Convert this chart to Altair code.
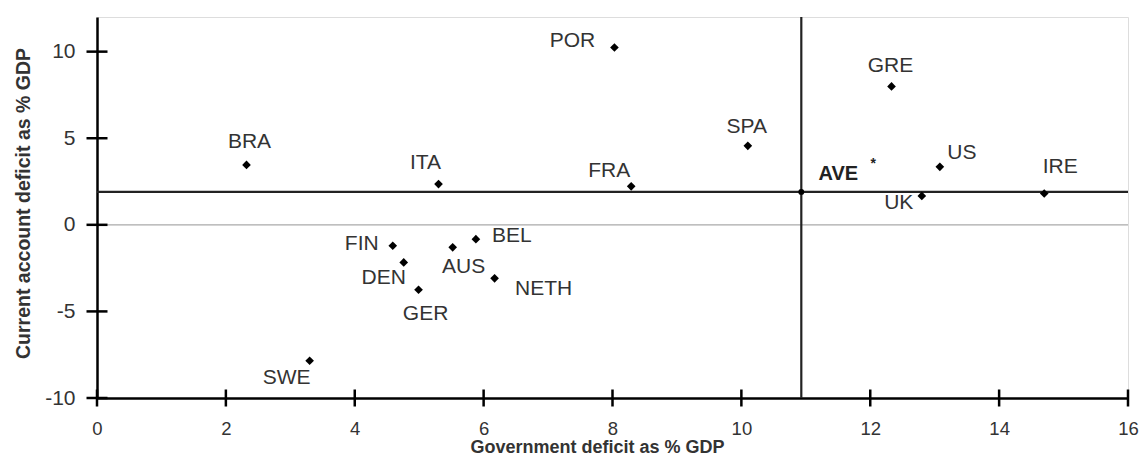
import altair as alt
import pandas as pd

# ---- data ----
countries = ["POR", "GRE", "BRA", "ITA", "FRA", "SPA", "US", "IRE", "UK",
             "FIN", "DEN", "AUS", "BEL", "NETH", "GER", "SWE"]
gov_deficit = [8.03, 12.33, 2.32, 5.30, 8.29, 10.10, 13.08, 14.70, 12.80,
               4.59, 4.76, 5.52, 5.88, 6.17, 4.99, 3.30]
ca_deficit = [10.24, 7.99, 3.46, 2.35, 2.22, 4.56, 3.35, 1.81, 1.67,
              -1.21, -2.17, -1.30, -0.83, -3.09, -3.75, -7.85]
avg_label = ["AVE"]
avg_gov = [10.93]
avg_ca = [1.90]
x_ticks = [0, 2, 4, 6, 8, 10, 12, 14, 16]
y_ticks = [-10, -5, 0, 5, 10]
x_title = "Government deficit as % GDP"
y_title = "Current account deficit as % GDP"

# ---- label placement (style, kept apart from data) ----
label_offsets = {
    "POR": (-42, -6), "GRE": (-1, -20), "BRA": (3, -23), "ITA": (-13, -21),
    "FRA": (-22, -15), "SPA": (-1, -19), "US": (22, -14), "IRE": (16, -26),
    "UK": (-23, 7), "FIN": (-31, -2), "DEN": (-20, 16), "AUS": (11, 20),
    "BEL": (36, -3), "NETH": (49, 11), "GER": (7, 24), "SWE": (-23, 17),
}

df = pd.DataFrame({"country": countries, "gov": gov_deficit, "ca": ca_deficit})
avg = pd.DataFrame({"label": avg_label, "gov": avg_gov, "ca": avg_ca})
xt = pd.DataFrame({"v": x_ticks, "base": [y_ticks[0]] * len(x_ticks)})
yt = pd.DataFrame({"v": y_ticks, "base": [x_ticks[0]] * len(y_ticks)})

FONT = "Liberation Sans"
TXT = "#333333"

xscale = alt.Scale(domain=[0, 16], nice=False, zero=False)
yscale = alt.Scale(domain=[-10, 12], nice=False, zero=False)

xaxis = alt.Axis(values=x_ticks, ticks=False, grid=False, domainColor="black",
                 domainWidth=2.5, labelFont=FONT, labelFontSize=18.5, labelColor=TXT,
                 labelExpr="datum.value + ''", labelFlush=False,
                 labelPadding=21, title=x_title, titleFont=FONT, titleFontSize=18,
                 titleFontWeight="bold", titleColor=TXT, titleX=500, titleY=54,
                 titleBaseline="alphabetic", titleAlign="center")
yaxis = alt.Axis(values=y_ticks, ticks=False, grid=False, domainColor="black",
                 domainWidth=2.5, labelFont=FONT, labelFontSize=21, labelColor=TXT,
                 labelExpr="datum.value + ''", labelFlush=False,
                 labelPadding=22, title=y_title, titleFont=FONT, titleFontSize=19.5,
                 titleFontWeight="bold", titleColor=TXT, titleX=-74, titleY=186,
                 titleBaseline="middle", titleAlign="center", titleAngle=270)

base = alt.Chart(df)

points = base.mark_point(shape="diamond", filled=True, color="black", size=75, opacity=1).encode(
    x=alt.X("gov:Q", scale=xscale, axis=xaxis),
    y=alt.Y("ca:Q", scale=yscale, axis=yaxis),
)

zero_line = alt.Chart(pd.DataFrame({"y": [0], "x1": [x_ticks[0]], "x2": [x_ticks[-1]]})).mark_rule(
    color="#aaaaaa", strokeWidth=1.2).encode(x="x1:Q", x2="x2:Q", y="y:Q")

avg_h = alt.Chart(avg).mark_rule(color="#222222", strokeWidth=2.2).encode(
    x=alt.datum(0), x2=alt.datum(16), y="ca:Q")
avg_v = alt.Chart(avg).mark_rule(color="#222222", strokeWidth=2.2).encode(
    x="gov:Q", y=alt.datum(-10), y2=alt.datum(12))
avg_pt = alt.Chart(avg).mark_point(shape="circle", filled=True, color="black", size=35, opacity=1).encode(
    x="gov:Q", y="ca:Q")
avg_txt = alt.Chart(avg).mark_text(font=FONT, fontSize=20, fontWeight="bold", color="#222222",
                                   dx=37, dy=-18).encode(x="gov:Q", y="ca:Q", text="label:N")
avg_star = alt.Chart(avg).mark_text(font=FONT, fontSize=14, fontWeight="bold", color="#222222",
                                    dx=72, dy=-28, text="*").encode(x="gov:Q", y="ca:Q")

xticks = alt.Chart(xt).mark_point(shape="stroke", angle=90, filled=False, color="black",
                                  size=289, strokeWidth=2.5, opacity=1).encode(
    x="v:Q", y="base:Q")
yticks = alt.Chart(yt).mark_point(shape="stroke", filled=False, color="black",
                                  size=441, strokeWidth=2.5, opacity=1).encode(
    y="v:Q", x="base:Q")

labels = []
for c in countries:
    dx, dy = label_offsets[c]
    labels.append(
        base.transform_filter(alt.datum.country == c).mark_text(
            font=FONT, fontSize=21, color=TXT, dx=dx, dy=dy).encode(
            x="gov:Q", y="ca:Q", text="country:N")
    )

chart = alt.layer(zero_line, avg_h, avg_v, xticks, yticks, points, avg_pt, avg_txt, avg_star, *labels).properties(
    width=1031, height=381,
    autosize=alt.AutoSizeParams(type="none"),
    padding={"left": 89, "top": 9, "right": 11, "bottom": 57},
).configure_view(stroke=None).configure(background="white")

chart.save("out.html", embed_options={"renderer": "svg", "actions": False})
